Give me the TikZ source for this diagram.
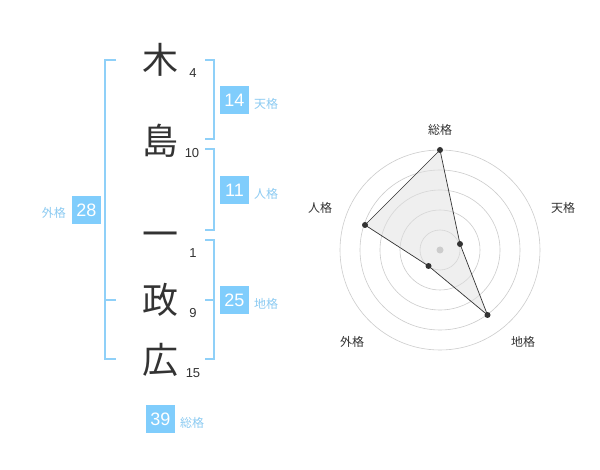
\documentclass[tikz,border=0pt]{standalone}
\usepackage{fontspec}
\setmainfont{Noto Sans CJK JP}
\newfontfamily\digitfont{Liberation Sans}
\definecolor{skyb}{HTML}{80CDFC}
\definecolor{brk}{HTML}{8FD0F8}
\definecolor{lbl}{HTML}{8CCBF2}
\definecolor{ink}{HTML}{333333}
\definecolor{ring}{HTML}{CCCCCC}
\begin{document}
\begin{tikzpicture}[x=1pt,y=-1pt,
  namechar/.style={font=\fontsize{36}{36}\selectfont, text=ink, inner sep=0pt},
  strokes/.style={font=\digitfont\fontsize{13}{13}\selectfont, text=ink, inner sep=0pt},
  valbox/.style={fill=skyb, text=white, minimum width=29, minimum height=28, inner sep=0pt, font=\digitfont\fontsize{18}{18}\selectfont},
  kaku/.style={text=lbl, inner sep=0pt, font=\fontsize{12}{12}\selectfont},
  bracket/.style={draw=brk, line width=1.6pt},
  axislbl/.style={text=ink, inner sep=0pt, font=\fontsize{12}{12}\selectfont},
  ringc/.style={draw=ring, line width=0.6pt},
  dot/.style={circle, fill=ink, inner sep=0pt, minimum size=6}
]
\useasboundingbox (0,0) rectangle (600,470);
\fill[white] (0,0) rectangle (600,470);

% name characters
\node[namechar] (c1) at (160,60) {木};
\node[namechar] (c2) at (160,141) {島};
\node[namechar] (c3) at (160,240) {一};
\node[namechar] (c4) at (160,300) {政};
\node[namechar] (c5) at (160,360) {広};
\node[strokes] (s1) at (193,73) {4};
\node[strokes] (s2) at (192,153) {10};
\node[strokes] (s3) at (193,253) {1};
\node[strokes] (s4) at (193,313) {9};
\node[strokes] (s5) at (193,373) {15};

% brackets
\draw[bracket] (116,60) -- (105,60) -- (105,359) -- (116,359);
\draw[bracket] (105,300) -- (116,300);
\draw[bracket] (205,60) -- (214,60) -- (214,139) -- (205,139);
\draw[bracket] (205,149) -- (214,149) -- (214,230) -- (205,230);
\draw[bracket] (205,240) -- (214,240) -- (214,359) -- (205,359);
\draw[bracket] (205,300) -- (214,300);

% values
\node[valbox] (ten) at (234.5,100.5) {14};
\node[kaku, anchor=west] (tenl) at (254,104) {天格};
\node[valbox] (jin) at (234.5,190) {11};
\node[kaku, anchor=west] (jinl) at (254,194) {人格};
\node[valbox] (chi) at (234.5,300.5) {25};
\node[kaku, anchor=west] (chil) at (254,304) {地格};
\node[valbox] (gai) at (86.5,210) {28};
\node[kaku, anchor=east] (gail) at (66,213) {外格};
\node[valbox] (sou) at (160.5,419) {39};
\node[kaku, anchor=west] (soul) at (180,423) {総格};

% radar chart
\coordinate (ctr) at (440,250);
\foreach \r in {20,40,60,80,100} \draw[ringc] (ctr) circle[radius=\r];
\coordinate (pS) at (440,150);
\coordinate (pT) at (460,244);
\coordinate (pC) at (487.5,315);
\coordinate (pG) at (428.5,266);
\coordinate (pJ) at (365,225);
\fill[black!12, fill opacity=0.5] (pS) -- (pT) -- (pC) -- (pG) -- (pJ) -- cycle;
\draw[ink, line width=0.7pt] (pS) -- (pT) -- (pC) -- (pG) -- (pJ) -- cycle;
\fill[ring] (ctr) circle[radius=3.5];
\foreach \p in {pS,pT,pC,pG,pJ} \node[dot] at (\p) {};

\node[axislbl] (aS) at (440,130) {総格};
\node[axislbl] (aT) at (563,208) {天格};
\node[axislbl] (aC) at (523,342) {地格};
\node[axislbl] (aG) at (352,342) {外格};
\node[axislbl] (aJ) at (320,208) {人格};
\end{tikzpicture}
\end{document}
